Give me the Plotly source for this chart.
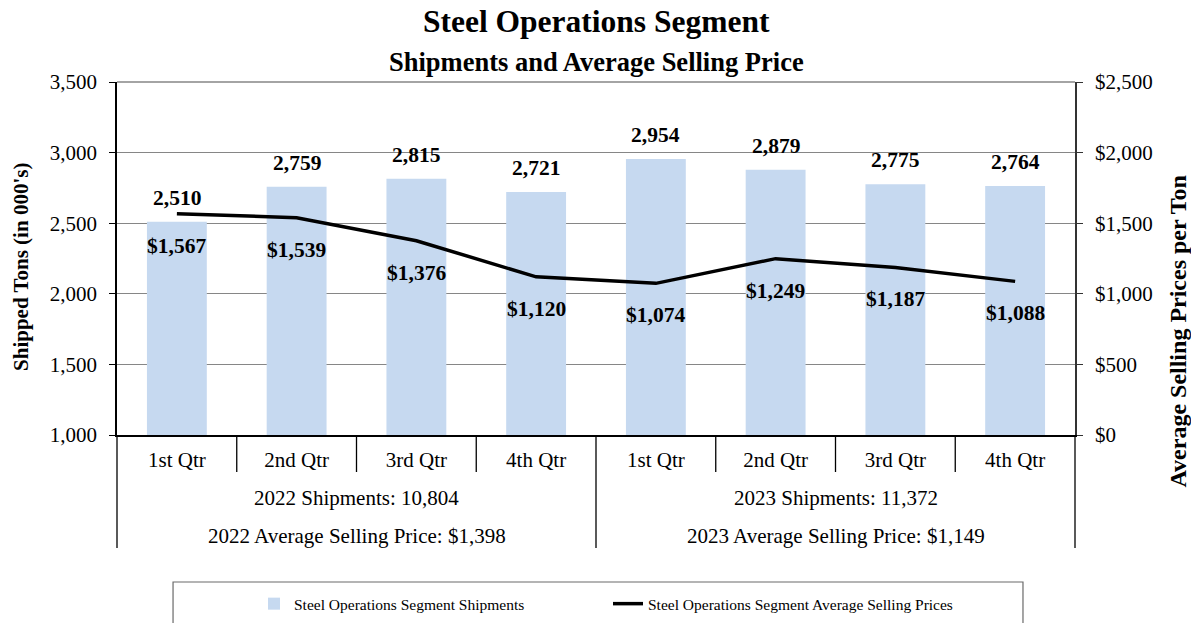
import plotly.graph_objects as go

# ---------------- data ----------------
quarters = ["1st Qtr", "2nd Qtr", "3rd Qtr", "4th Qtr", "1st Qtr", "2nd Qtr", "3rd Qtr", "4th Qtr"]
years = ["2022", "2023"]
shipments = [2510, 2759, 2815, 2721, 2954, 2879, 2775, 2764]
avg_price = [1567, 1539, 1376, 1120, 1074, 1249, 1187, 1088]
year_shipments = [10804, 11372]
year_avg_price = [1398, 1149]

FONT = "Liberation Serif, Times New Roman, serif"
BAR_COLOR = "#C6D9F0"
GRID = "#868686"

x_pos = list(range(len(quarters)))
n = len(quarters)

fig = go.Figure()
fig.add_trace(go.Bar(
    x=x_pos, y=shipments, width=0.5, marker=dict(color=BAR_COLOR, line=dict(width=0)),
    name="Steel Operations Segment Shipments", yaxis="y",
))
fig.add_trace(go.Scatter(
    x=x_pos, y=avg_price, mode="lines", line=dict(color="black", width=3.5),
    name="Steel Operations Segment Average Selling Prices", yaxis="y2",
))

def ann(**kw):
    base = dict(showarrow=False, xanchor="center", yanchor="middle")
    base.update(kw)
    return base

annotations = []
# bar value labels
for xi, v in zip(x_pos, shipments):
    annotations.append(ann(x=xi, y=v, xref="x", yref="y", text=f"<b>{v:,}</b>",
                           yshift=24, font=dict(family=FONT, size=21.5, color="black")))
# price labels
for xi, v in zip(x_pos, avg_price):
    annotations.append(ann(x=xi, y=v, xref="x", yref="y2", text=f"<b>${v:,}</b>",
                           yshift=-32, font=dict(family=FONT, size=21.5, color="black")))

# group rows under axis
for gi, yr in enumerate(years):
    cx = gi * 4 + 1.5
    annotations.append(ann(x=cx, y=-0.1785, xref="x", yref="paper",
                           text=f"{yr} Shipments: {year_shipments[gi]:,}",
                           font=dict(family=FONT, size=21, color="black")))
    annotations.append(ann(x=cx, y=-0.2875, xref="x", yref="paper",
                           text=f"{yr} Average Selling Price: ${year_avg_price[gi]:,}",
                           font=dict(family=FONT, size=21, color="black")))

# titles
annotations.append(ann(x=0.5, y=1.172, xref="paper", yref="paper",
                       text="<b>Steel Operations Segment</b>", font=dict(family=FONT, size=31.5, color="black")))
annotations.append(ann(x=0.5, y=1.058, xref="paper", yref="paper",
                       text="<b>Shipments and Average Selling Price</b>", font=dict(family=FONT, size=26.5, color="black")))
# axis titles
annotations.append(ann(x=-0.1002, y=0.476, xref="paper", yref="paper", textangle=-90,
                       text="<b>Shipped Tons (in 000's)</b>", font=dict(family=FONT, size=21, color="black")))
annotations.append(ann(x=1.108, y=0.2946, xref="paper", yref="paper", textangle=-90,
                       text="<b>Average Selling Prices per Ton</b>", font=dict(family=FONT, size=24, color="black")))

shapes = []
# quarter separators (short)
for k in range(1, n):
    xp = k / n
    bottom = -0.320 if k == n // 2 else -0.1048
    shapes.append(dict(type="line", xref="paper", yref="paper", x0=xp, x1=xp, y0=0, y1=bottom,
                       line=dict(color="black", width=1.3)))
# outer verticals
for xp in (0, 1):
    shapes.append(dict(type="line", xref="paper", yref="paper", x0=xp, x1=xp, y0=0, y1=-0.320,
                       line=dict(color="black", width=1.3)))
# top border grid
shapes.append(dict(type="line", xref="paper", yref="paper", x0=0, x1=1, y0=1, y1=1,
                   line=dict(color=GRID, width=1.5)))
# legend box
shapes.append(dict(type="rect", xref="paper", yref="paper", x0=0.0585, x1=0.9457, y0=-0.4164, y1=-0.56,
                   line=dict(color="#6a6a6a", width=1.2), fillcolor="rgba(0,0,0,0)"))

fig.update_layout(
    width=1191, height=623,
    margin=dict(l=117, r=116, t=82, b=188, autoexpand=False),
    paper_bgcolor="white", plot_bgcolor="white",
    font=dict(family=FONT, color="black"),
    showlegend=True,
    legend=dict(orientation="h", x=0.143, y=-0.4308, xanchor="left", yanchor="top",
                bgcolor="rgba(0,0,0,0)", borderwidth=0, entrywidth=309,
                font=dict(family=FONT, size=15.5, color="black")),
    bargap=0.5,
    xaxis=dict(range=[-0.5, n - 0.5], tickmode="array", tickvals=x_pos, ticktext=quarters,
               showgrid=False, zeroline=False, showline=True, linecolor="black", linewidth=1.5,
               ticks="", tickfont=dict(family=FONT, size=21, color="black"), ticklabelstandoff=5),
    yaxis=dict(range=[1000, 3500], dtick=500, tickformat=",", showgrid=True, gridcolor=GRID, gridwidth=1.2,
               zeroline=False, showline=True, linecolor="black", linewidth=1.5,
               ticks="outside", ticklen=6, tickcolor="black",
               tickfont=dict(family=FONT, size=21, color="black"), ticklabelstandoff=8),
    yaxis2=dict(range=[0, 2500], dtick=500, tickformat=",", tickprefix="$", overlaying="y", side="right",
                showgrid=False, zeroline=False, showline=True, linecolor="#333333", linewidth=1.5,
                ticks="outside", ticklen=6, tickcolor="#333333",
                tickfont=dict(family=FONT, size=21, color="black"), ticklabelstandoff=8),
    annotations=annotations,
    shapes=shapes,
)

fig.write_html("out.html", config={"displayModeBar": False},
               post_script="document.body.style.margin='0';document.body.style.overflow='hidden';")
